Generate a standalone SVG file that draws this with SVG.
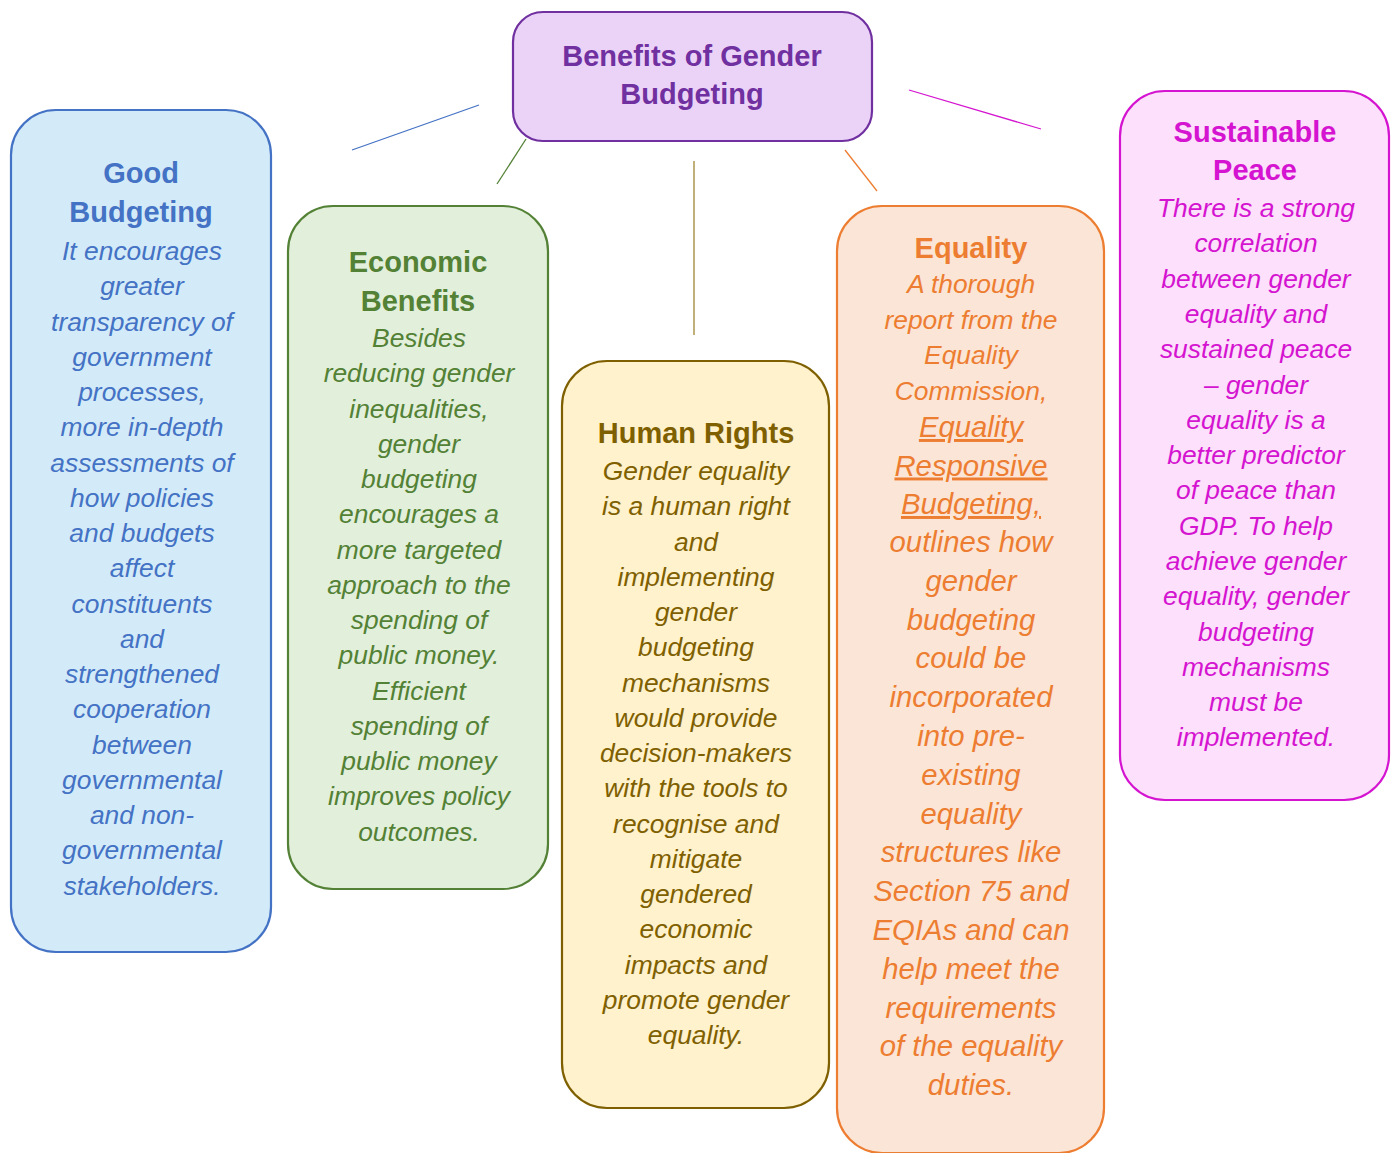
<svg xmlns="http://www.w3.org/2000/svg" width="1392" height="1153" viewBox="0 0 1392 1153">
<style>
text{font-family:"Liberation Sans",Arial,sans-serif;text-anchor:middle}
.t{font-weight:bold;font-size:29px}
.b{font-style:italic;font-size:26.4px}
.big{font-size:29.3px}
.u{text-decoration:underline}
.blue{fill:#4472c4}.green{fill:#538135}.olive{fill:#7f6000}.orange{fill:#ed7d31}.mag{fill:#d414d0}.purple{fill:#7030a0}
line{stroke-width:1.3}
rect{stroke-width:2.2}
</style>
<rect width="1392" height="1153" fill="#ffffff"/>
<g id="connectors">
<line x1="352" y1="150" x2="479" y2="105" stroke="#4472c4"/>
<line x1="526" y1="139" x2="497" y2="184" stroke="#538135"/>
<line x1="694" y1="161" x2="694" y2="335" stroke="#9e8530"/>
<line x1="845" y1="150" x2="877" y2="191" stroke="#ed7d31"/>
<line x1="909" y1="90" x2="1041" y2="129" stroke="#d414d0"/>
</g>
<g id="center">
<rect x="513" y="12" width="359" height="129" rx="30" fill="#ebd3f8" stroke="#7030a0"/>
<text class="t purple" x="692" y="66">Benefits of Gender</text>
<text class="t purple" x="692" y="104">Budgeting</text>
</g>
<g id="good-budgeting">
<rect x="11" y="110" width="260" height="842" rx="45" fill="#d3ebf9" stroke="#4472c4"/>
<text class="t blue" x="141" y="183">Good</text>
<text class="t blue" x="141" y="222">Budgeting</text>
<text class="b blue" x="142" y="260">It encourages<tspan x="142" dy="35.25">greater</tspan><tspan x="142" dy="35.25">transparency of</tspan><tspan x="142" dy="35.25">government</tspan><tspan x="142" dy="35.25">processes,</tspan><tspan x="142" dy="35.25">more in-depth</tspan><tspan x="142" dy="35.25">assessments of</tspan><tspan x="142" dy="35.25">how policies</tspan><tspan x="142" dy="35.25">and budgets</tspan><tspan x="142" dy="35.25">affect</tspan><tspan x="142" dy="35.25">constituents</tspan><tspan x="142" dy="35.25">and</tspan><tspan x="142" dy="35.25">strengthened</tspan><tspan x="142" dy="35.25">cooperation</tspan><tspan x="142" dy="35.25">between</tspan><tspan x="142" dy="35.25">governmental</tspan><tspan x="142" dy="35.25">and non-</tspan><tspan x="142" dy="35.25">governmental</tspan><tspan x="142" dy="35.25">stakeholders.</tspan></text>
</g>
<g id="economic-benefits">
<rect x="288" y="206" width="260" height="683" rx="45" fill="#e2efda" stroke="#538135"/>
<text class="t green" x="418" y="272">Economic</text>
<text class="t green" x="418" y="311">Benefits</text>
<text class="b green" x="419" y="347">Besides<tspan x="419" dy="35.25">reducing gender</tspan><tspan x="419" dy="35.25">inequalities,</tspan><tspan x="419" dy="35.25">gender</tspan><tspan x="419" dy="35.25">budgeting</tspan><tspan x="419" dy="35.25">encourages a</tspan><tspan x="419" dy="35.25">more targeted</tspan><tspan x="419" dy="35.25">approach to the</tspan><tspan x="419" dy="35.25">spending of</tspan><tspan x="419" dy="35.25">public money.</tspan><tspan x="419" dy="35.25">Efficient</tspan><tspan x="419" dy="35.25">spending of</tspan><tspan x="419" dy="35.25">public money</tspan><tspan x="419" dy="35.25">improves policy</tspan><tspan x="419" dy="35.25">outcomes.</tspan></text>
</g>
<g id="human-rights">
<rect x="562" y="361" width="267" height="747" rx="45" fill="#fff2cc" stroke="#7f6000"/>
<text class="t olive" x="696" y="443">Human Rights</text>
<text class="b olive" x="696" y="480">Gender equality<tspan x="696" dy="35.25">is a human right</tspan><tspan x="696" dy="35.25">and</tspan><tspan x="696" dy="35.25">implementing</tspan><tspan x="696" dy="35.25">gender</tspan><tspan x="696" dy="35.25">budgeting</tspan><tspan x="696" dy="35.25">mechanisms</tspan><tspan x="696" dy="35.25">would provide</tspan><tspan x="696" dy="35.25">decision-makers</tspan><tspan x="696" dy="35.25">with the tools to</tspan><tspan x="696" dy="35.25">recognise and</tspan><tspan x="696" dy="35.25">mitigate</tspan><tspan x="696" dy="35.25">gendered</tspan><tspan x="696" dy="35.25">economic</tspan><tspan x="696" dy="35.25">impacts and</tspan><tspan x="696" dy="35.25">promote gender</tspan><tspan x="696" dy="35.25">equality.</tspan></text>
</g>
<g id="equality">
<rect x="837" y="206" width="267" height="947" rx="45" fill="#fbe5d6" stroke="#ed7d31"/>
<text class="t orange" x="971" y="258">Equality</text>
<text class="b orange" x="971" y="293">A thorough<tspan x="971" dy="35.5">report from the</tspan><tspan x="971" dy="35.5">Equality</tspan><tspan x="971" dy="35.5">Commission,</tspan></text>
<text class="b big orange u" x="971" y="437">Equality<tspan x="971" dy="38.5">Responsive</tspan><tspan x="971" dy="38.5">Budgeting,</tspan></text>
<text class="b big orange" x="971" y="552">outlines how<tspan x="971" dy="38.8">gender</tspan><tspan x="971" dy="38.8">budgeting</tspan><tspan x="971" dy="38.8">could be</tspan><tspan x="971" dy="38.8">incorporated</tspan><tspan x="971" dy="38.8">into pre-</tspan><tspan x="971" dy="38.8">existing</tspan><tspan x="971" dy="38.8">equality</tspan><tspan x="971" dy="38.8">structures like</tspan><tspan x="971" dy="38.8">Section 75 and</tspan><tspan x="971" dy="38.8">EQIAs and can</tspan><tspan x="971" dy="38.8">help meet the</tspan><tspan x="971" dy="38.8">requirements</tspan><tspan x="971" dy="38.8">of the equality</tspan><tspan x="971" dy="38.8">duties.</tspan></text>
</g>
<g id="sustainable-peace">
<rect x="1120" y="91" width="269" height="709" rx="45" fill="#fde0fb" stroke="#d414d0"/>
<text class="t mag" x="1255" y="142">Sustainable</text>
<text class="t mag" x="1255" y="180">Peace</text>
<text class="b mag" x="1256" y="217">There is a strong<tspan x="1256" dy="35.3">correlation</tspan><tspan x="1256" dy="35.3">between gender</tspan><tspan x="1256" dy="35.3">equality and</tspan><tspan x="1256" dy="35.3">sustained peace</tspan><tspan x="1256" dy="35.3">– gender</tspan><tspan x="1256" dy="35.3">equality is a</tspan><tspan x="1256" dy="35.3">better predictor</tspan><tspan x="1256" dy="35.3">of peace than</tspan><tspan x="1256" dy="35.3">GDP. To help</tspan><tspan x="1256" dy="35.3">achieve gender</tspan><tspan x="1256" dy="35.3">equality, gender</tspan><tspan x="1256" dy="35.3">budgeting</tspan><tspan x="1256" dy="35.3">mechanisms</tspan><tspan x="1256" dy="35.3">must be</tspan><tspan x="1256" dy="35.3">implemented.</tspan></text>
</g>
</svg>
